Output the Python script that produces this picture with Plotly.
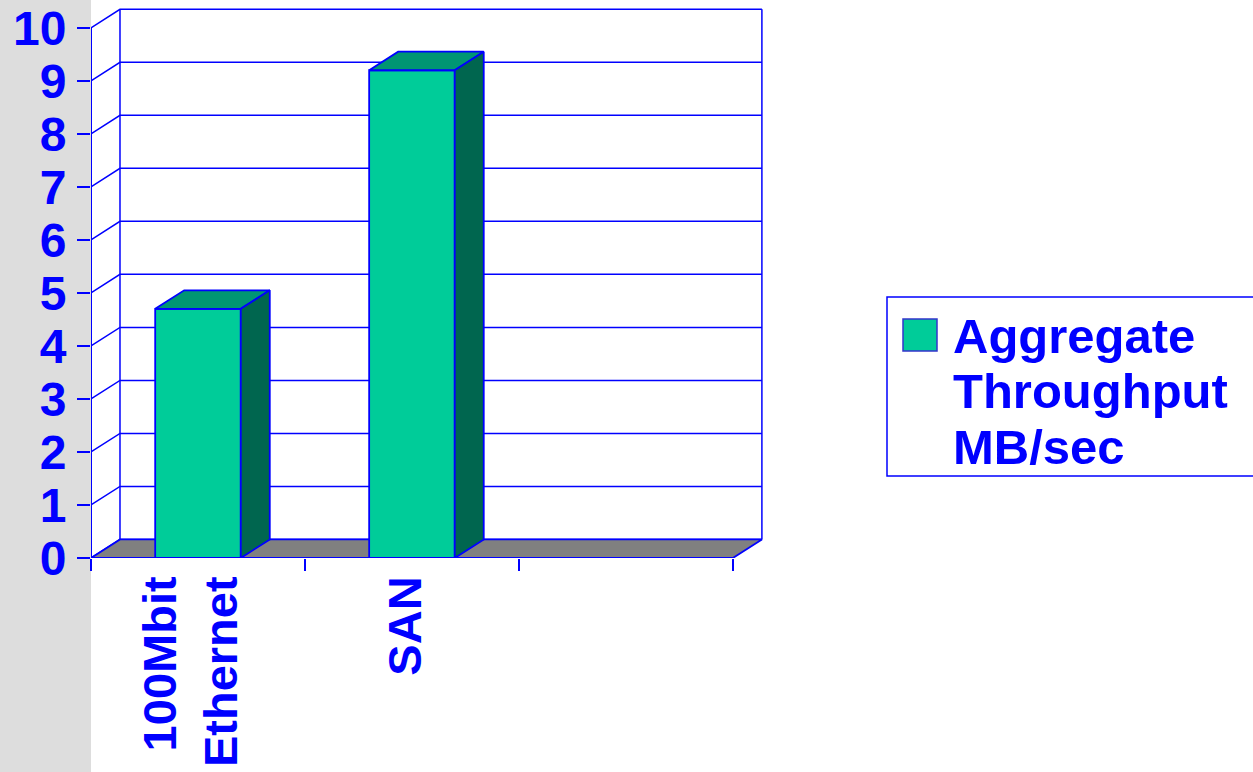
import plotly.graph_objects as go

# ---- data ----
categories = ["100Mbit<br>Ethernet", "SAN", ""]
values = [4.7, 9.2, None]
series_name = "Aggregate Throughput MB/sec"
legend_lines = ["Aggregate", "Throughput", "MB/sec"]
y_ticks = [0, 1, 2, 3, 4, 5, 6, 7, 8, 9, 10]

# ---- style ----
BLUE = "#0000FF"
FRONT = "#00CC99"
TOP = "#009673"
SIDE = "#00664F"
FLOOR = "#808080"
FONT = "Liberation Sans, Arial, sans-serif"
DX = 0.1355   # depth offset in x units
DY = 0.35     # depth offset in y units
HALF = 0.2    # half bar width
n = len(categories)
ymax = max(y_ticks)

W, H = 1253, 772
ML, MR, MT, MB = 91, 488, 4, 214
XR = [0, 3.15]
YR = [0, 10.45]
PW = W - ML - MR
PH = H - MT - MB


def px_x(p):
    return (p - ML) / PW


def px_y(p):
    return (H - MB - p) / PH


fig = go.Figure()


def line(xs, ys, lw=1.5):
    fig.add_trace(go.Scatter(x=xs, y=ys, mode="lines",
                             line=dict(color=BLUE, width=lw),
                             hoverinfo="skip", showlegend=False))


def poly(xs, ys, fill, lw=1.8):
    fig.add_trace(go.Scatter(x=xs + [xs[0]], y=ys + [ys[0]], mode="lines",
                             fill="toself", fillcolor=fill,
                             line=dict(color=BLUE, width=lw),
                             hoverinfo="skip", showlegend=False))


# back wall gridlines + side-wall diagonals
for v in y_ticks:
    line([0, DX, n + DX], [v, v + DY, v + DY])
line([DX, DX], [DY, ymax + DY])
line([n + DX, n + DX], [DY, ymax + DY])

# floor
poly([0, n, n + DX, DX], [0, 0, DY, DY], FLOOR)

# value axis line
line([0, 0], [0, ymax], 2)

# 3-D bars
for i, v in enumerate(values):
    if v is None:
        continue
    c = i + 0.5
    x0, x1 = c - HALF, c + HALF
    poly([x0, x1, x1, x0], [0, 0, v, v], FRONT)
    poly([x0, x1, x1 + DX, x0 + DX], [v, v, v + DY, v + DY], TOP)
    poly([x1, x1 + DX, x1 + DX, x1], [0, DY, v + DY, v], SIDE)

# invisible trace for label axis
fig.add_trace(go.Scatter(x=[0.5], y=[0], xaxis="x2", mode="markers",
                         marker=dict(opacity=0), hoverinfo="skip",
                         showlegend=False))

# left grey strip
fig.add_shape(type="rect", xref="paper", yref="paper",
              x0=px_x(0), x1=px_x(ML), y0=px_y(H), y1=px_y(0),
              fillcolor="#DDDDDD", line=dict(width=0), layer="below")

# legend box
fig.add_shape(type="rect", xref="paper", yref="paper",
              x0=px_x(887), x1=px_x(1262), y0=px_y(476), y1=px_y(297),
              fillcolor="white", line=dict(color=BLUE, width=1.5))
fig.add_shape(type="rect", xref="paper", yref="paper",
              x0=px_x(903), x1=px_x(937), y0=px_y(351), y1=px_y(319),
              fillcolor=FRONT, line=dict(color="#3333CC", width=1.5))
for k, txt in enumerate(legend_lines):
    fig.add_annotation(xref="paper", yref="paper", x=px_x(951),
                       y=px_y(336 + k * 55.5), xanchor="left", yanchor="middle",
                       text=txt, showarrow=False,
                       font=dict(family=FONT, size=49, color=BLUE, weight="bold"))

fig.update_layout(
    width=W, height=H,
    margin=dict(l=ML, r=MR, t=MT, b=MB, autoexpand=False),
    paper_bgcolor="white", plot_bgcolor="white",
    showlegend=False,
    xaxis=dict(range=XR, tickmode="array", tickvals=list(range(n + 1)),
               showticklabels=False, ticks="outside", ticklen=12,
               tickwidth=2, tickcolor=BLUE, showgrid=False, zeroline=False,
               showline=False, automargin=False),
    xaxis2=dict(range=XR, overlaying="x", anchor="y", side="bottom",
                tickmode="array", tickvals=[i + 0.5 - 0.03 for i in range(n)],
                ticktext=categories, tickangle=-90, ticks="",
                ticklabelstandoff=8, automargin=False,
                tickfont=dict(family=FONT, size=47, color=BLUE, weight="bold"),
                showgrid=False, zeroline=False, showline=False),
    yaxis=dict(range=YR, tickmode="array", tickvals=y_ticks,
               ticktext=[str(v) for v in y_ticks],
               ticks="outside", ticklen=13, tickwidth=2, tickcolor=BLUE,
               ticklabelstandoff=1, automargin=False,
               tickfont=dict(family=FONT, size=48, color=BLUE, weight="bold"),
               showgrid=False, zeroline=False, showline=False),
)

fig.write_html("out.html")
